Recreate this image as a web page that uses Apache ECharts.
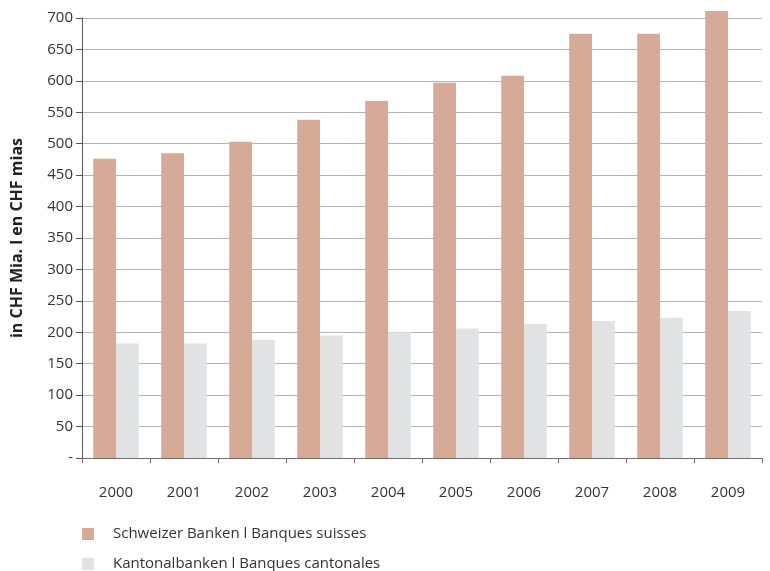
<!DOCTYPE html>
<html>
<head>
<meta charset="utf-8">
<script src="https://cdn.jsdelivr.net/npm/echarts@6/dist/echarts.min.js"></script>
<style>
  html, body { margin: 0; padding: 0; background: #ffffff; }
  #chart { width: 770px; height: 571px; }
</style>
</head>
<body>
<div id="chart"></div>
<script>
// Bilanzsumme in CHF Mia. | total des bilans en CHF mias
const years = ['2000', '2001', '2002', '2003', '2004', '2005', '2006', '2007', '2008', '2009'];
const schweizerBanken = [476, 485, 503, 538, 568, 597, 608, 675, 675, 711];
const kantonalBanken = [182, 182, 188, 195, 200, 206, 213, 218, 223, 234];
const seriesNames = ['Schweizer Banken l Banques suisses', 'Kantonalbanken l Banques cantonales'];
const yAxisTitle = 'in CHF Mia. l en CHF mias';

const FONT = '"Open Sans", "Noto Sans", sans-serif';
const chart = echarts.init(document.getElementById('chart'), null, { renderer: 'canvas' });

// one legend block per row, stacked under the x axis
const legendRow = (name, top) => ({
  orient: 'vertical',
  left: 82,
  top: top,
  padding: 0,
  itemWidth: 12,
  itemHeight: 12,
  icon: 'rect',
  textStyle: { fontFamily: FONT, fontSize: 15, lineHeight: 18, color: '#333333', padding: [0, 0, 0, 14] },
  data: [name]
});

chart.setOption({
  animation: false,
  backgroundColor: '#ffffff',
  textStyle: { fontFamily: FONT },
  grid: { left: 82, right: 8, top: 18, bottom: 113, containLabel: false },
  legend: [legendRow(seriesNames[0], 525), legendRow(seriesNames[1], 555)],
  xAxis: {
    type: 'category',
    data: years,
    axisLine: { show: true, lineStyle: { color: '#6f6f6f', width: 1 } },
    axisTick: { show: true, length: 5, lineStyle: { color: '#6f6f6f' } },
    axisLabel: { fontFamily: FONT, fontSize: 15, color: '#333333', margin: 27 },
    splitLine: { show: false }
  },
  yAxis: {
    type: 'value',
    min: 0,
    max: 700,
    interval: 50,
    name: yAxisTitle,
    nameLocation: 'middle',
    nameGap: 57,
    nameRotate: 90,
    nameTextStyle: { fontFamily: FONT, fontSize: 16, fontWeight: 'bold', color: '#222222' },
    axisLine: { show: true, lineStyle: { color: '#555555', width: 1 } },
    axisTick: { show: true, length: 6, lineStyle: { color: '#555555' } },
    axisLabel: {
      fontFamily: FONT, fontSize: 15, color: '#333333', margin: 9,
      formatter: v => (v === 0 ? '-' : String(v))
    },
    splitLine: { show: true, lineStyle: { color: '#b4b4b4', width: 1 } }
  },
  series: [
    {
      name: seriesNames[0],
      type: 'bar',
      data: schweizerBanken,
      clip: false,
      itemStyle: { color: '#d7aa97' },
      barGap: '0%',
      barCategoryGap: '33%'
    },
    {
      name: seriesNames[1],
      type: 'bar',
      data: kantonalBanken,
      clip: false,
      itemStyle: { color: '#e1e2e4' },
      barGap: '0%',
      barCategoryGap: '33%'
    }
  ]
});
</script>
</body>
</html>
